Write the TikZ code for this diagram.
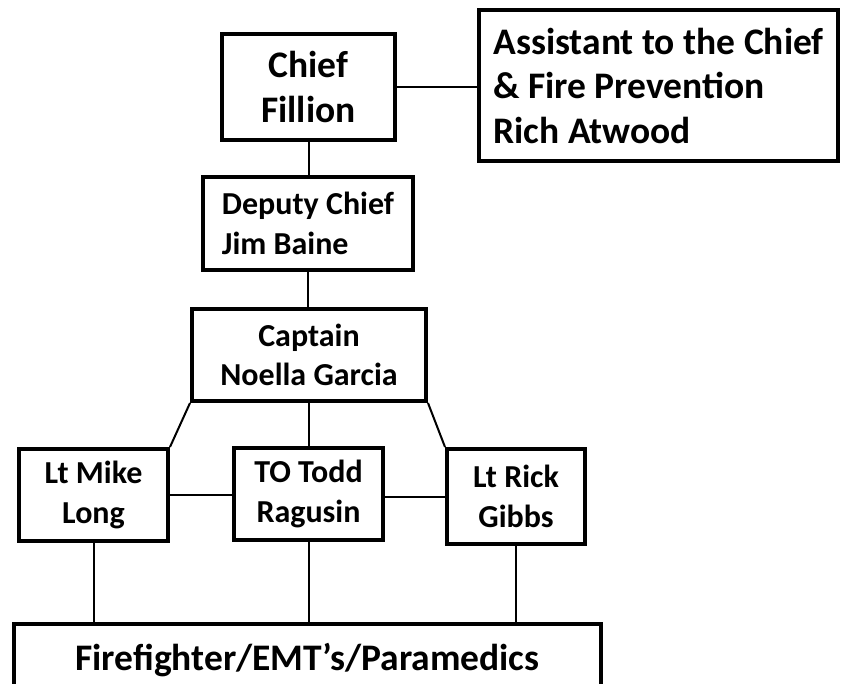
\documentclass[tikz,border=0pt]{standalone}
\usepackage{fontspec}
\setmainfont{Carlito}
\begin{document}
\begin{tikzpicture}[x=1pt,y=-1pt,
  box/.style={draw, line width=4pt, rectangle, inner sep=0pt, align=center},
  big/.style={font=\bfseries\fontsize{37.5}{44.5}\selectfont},
  small/.style={font=\bfseries\fontsize{32}{39.5}\selectfont},
  link/.style={line width=2pt}]
\fill[white] (0,0) rectangle (843,683);
\useasboundingbox (0,0) rectangle (843,683);
\node[box,big,minimum width=173pt,minimum height=106pt] (chief) at (308.5,87) {Chief\\Fillion};
\node[box,big,align=left,minimum width=359pt,minimum height=151pt] (asst) at (658.5,85.5) {Assistant to the Chief\\\& Fire Prevention\\Rich Atwood};
\node[box,small,align=left,minimum width=210pt,minimum height=93pt] (deputy) at (308,223.5) {Deputy Chief\\Jim Baine};
\node[box,small,minimum width=234pt,minimum height=92pt] (captain) at (309,355) {Captain\\Noella Garcia};
\node[box,small,minimum width=149pt,minimum height=92pt] (mike) at (93.5,495) {Lt Mike\\Long};
\node[box,small,minimum width=149pt,minimum height=92pt] (todd) at (308.5,494) {TO Todd\\Ragusin};
\node[box,small,minimum width=138pt,minimum height=95pt] (rick) at (516,496.5) {Lt Rick\\Gibbs};
\node[box,big,anchor=north,minimum width=587pt,text height=46pt,text depth=60pt] (ff) at (307.5,622) {Firefighter/EMT’s/Paramedics};
\draw[link] (chief.east) -- (asst.west |- chief.east);
\draw[link] (chief.south) -- (chief.south |- deputy.north);
\draw[link] (deputy.south) -- (deputy.south |- captain.north);
\draw[link] (captain.south) -- (captain.south |- todd.north);
\draw[link] (captain.south west) -- (mike.north east);
\draw[link] (captain.south east) -- (rick.north west);
\draw[link] (mike.east) -- (todd.west |- mike.east);
\draw[link] (rick.west) -- (todd.east |- rick.west);
\draw[link] (mike.south) -- (mike.south |- ff.north);
\draw[link] (todd.south) -- (todd.south |- ff.north);
\draw[link] (rick.south) -- (rick.south |- ff.north);
\end{tikzpicture}
\end{document}
